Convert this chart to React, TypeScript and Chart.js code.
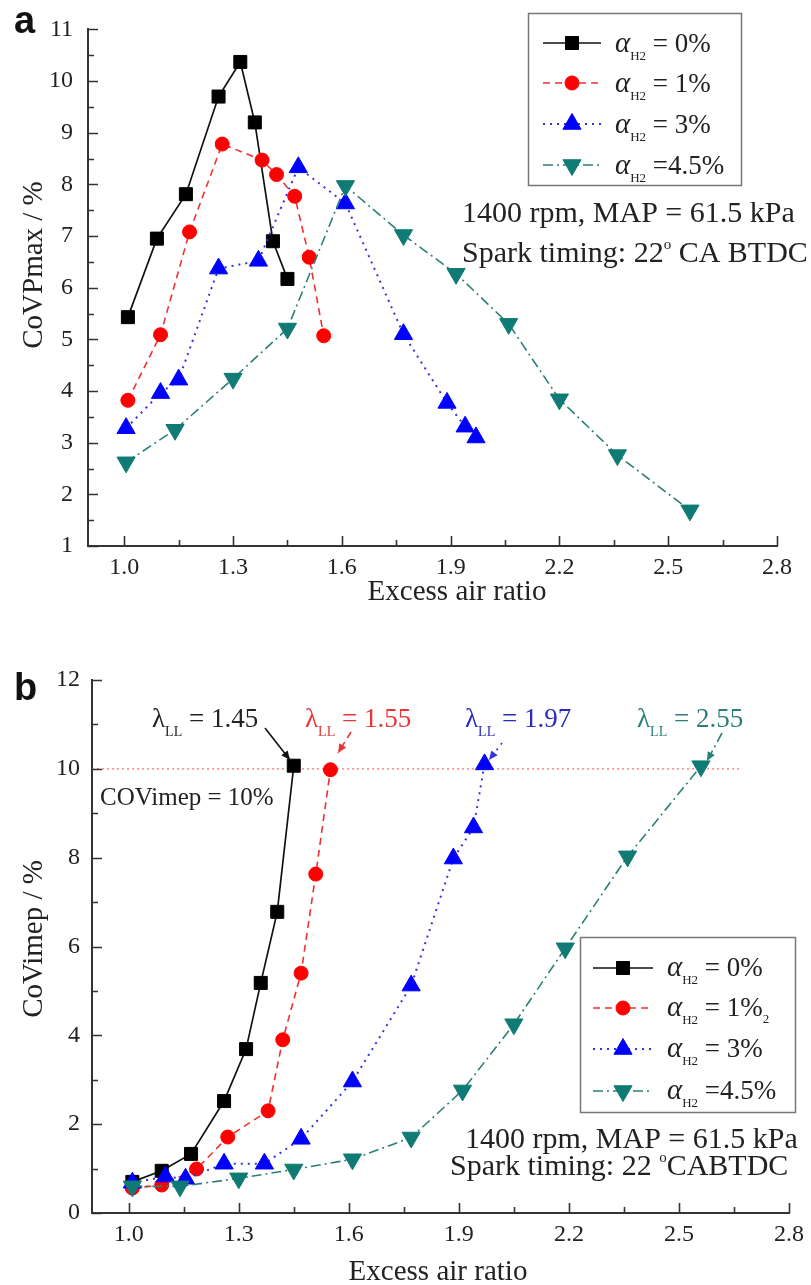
import React, { useEffect, useRef } from 'react';
import { Chart, registerables } from 'chart.js';

Chart.register(...registerables);

const SERIF = '"Liberation Serif", "Times New Roman", Times, serif';
const SANS = '"Liberation Sans", Arial, Helvetica, sans-serif';

// ---------------- Data ----------------
const seriesLabels = ['0%', '1%', '3%', '4.5%'];
const seriesLabelSubsB = ['', '2', '', ''];

const xTickValues = [1.0, 1.3, 1.6, 1.9, 2.2, 2.5, 2.8];
const xTickLabels = ['1.0', '1.3', '1.6', '1.9', '2.2', '2.5', '2.8'];
const yTickValuesA = [1, 2, 3, 4, 5, 6, 7, 8, 9, 10, 11];
const yTickLabelsA = ['1', '2', '3', '4', '5', '6', '7', '8', '9', '10', '11'];
const yTickValuesB = [0, 2, 4, 6, 8, 10, 12];
const yTickLabelsB = ['0', '2', '4', '6', '8', '10', '12'];

// Panel a: CoVPmax (%) vs excess air ratio
const covpX0 = [1.01, 1.09, 1.17, 1.26, 1.32, 1.36, 1.41, 1.45];
const covpY0 = [5.43, 6.95, 7.81, 9.7, 10.37, 9.2, 6.9, 6.17];
const covpX1 = [1.01, 1.1, 1.18, 1.27, 1.38, 1.42, 1.47, 1.51, 1.55];
const covpY1 = [3.82, 5.09, 7.08, 8.78, 8.47, 8.19, 7.77, 6.59, 5.07];
const covpX3 = [1.005, 1.1, 1.15, 1.26, 1.37, 1.48, 1.61, 1.77, 1.89, 1.94, 1.97];
const covpY3 = [3.28, 3.96, 4.22, 6.37, 6.52, 8.33, 7.63, 5.1, 3.77, 3.31, 3.1];
const covpX45 = [1.005, 1.14, 1.3, 1.45, 1.61, 1.77, 1.915, 2.06, 2.2, 2.36, 2.56];
const covpY45 = [2.62, 3.25, 4.24, 5.21, 7.97, 7.02, 6.27, 5.3, 3.84, 2.76, 1.69];

// Panel b: CoVimep (%) vs excess air ratio
const imepX0 = [1.01, 1.09, 1.17, 1.26, 1.32, 1.36, 1.405, 1.45];
const imepY0 = [0.7, 0.95, 1.33, 2.52, 3.69, 5.18, 6.78, 10.07];
const imepX1 = [1.01, 1.09, 1.185, 1.27, 1.38, 1.42, 1.47, 1.51, 1.55];
const imepY1 = [0.56, 0.63, 0.99, 1.71, 2.3, 3.9, 5.4, 7.63, 9.98];
const imepX3 = [1.01, 1.1, 1.155, 1.26, 1.37, 1.47, 1.61, 1.77, 1.885, 1.94, 1.97];
const imepY3 = [0.68, 0.82, 0.77, 1.11, 1.11, 1.67, 2.96, 5.12, 7.98, 8.68, 10.1];
const imepX45 = [1.01, 1.14, 1.3, 1.45, 1.61, 1.77, 1.91, 2.05, 2.19, 2.36, 2.56];
const imepY45 = [0.6, 0.6, 0.78, 0.98, 1.21, 1.7, 2.76, 4.25, 5.96, 8.03, 10.06];

const limitLineX = [0.9, 2.67];
const limitLineY = [10, 10];
const leanLimitLabels = ['1.45', '1.55', '1.97', '2.55'];

const xTitle = 'Excess air ratio';
const yTitleA = 'CoVPmax / %';
const yTitleB = 'CoVimep / %';
const conditionText = '1400 rpm, MAP = 61.5 kPa';
const limitText = 'COVimep = 10%';

// ---------------- Styles ----------------
const markerColors = ['#000000', '#ff0000', '#0000ff', '#0f7b74'];
const lineColors = ['#111111', '#f03030', '#3535e0', '#2a7f79'];
const textColors = ['#222222', '#e83535', '#2a2ac0', '#2a7f79'];
const lineDashes: number[][] = [[], [7, 5], [2, 5], [10, 4, 2, 4]];
const lineWidths = [1.7, 1.6, 2, 1.6];
const markerStyles = ['rect', 'circle', 'triangle', 'triangle'];
const markerRotations = [0, 0, 0, 180];
const markerRadii = [9.2, 7, 10.5, 10.5];

function buildDatasets(xs: number[][], ys: number[][]) {
  return xs.map((xv, i) => ({
    label: seriesLabels[i],
    data: xv.map((x, j) => ({ x, y: ys[i][j] })),
    borderColor: lineColors[i],
    borderWidth: lineWidths[i],
    borderDash: lineDashes[i],
    backgroundColor: markerColors[i],
    pointBackgroundColor: markerColors[i],
    pointBorderColor: markerColors[i],
    pointBorderWidth: 1,
    pointStyle: markerStyles[i],
    pointRotation: markerRotations[i],
    pointRadius: markerRadii[i],
    pointHoverRadius: markerRadii[i],
    tension: 0,
    fill: false,
    showLine: true,
    order: 3 - i,
  }));
}

function drawMarker(ctx: CanvasRenderingContext2D, i: number, x: number, y: number) {
  const r = markerRadii[i];
  ctx.save();
  ctx.setLineDash([]);
  ctx.fillStyle = markerColors[i];
  ctx.strokeStyle = markerColors[i];
  ctx.lineWidth = 1;
  ctx.beginPath();
  const st = markerStyles[i];
  if (st === 'rect') {
    const s = r * Math.SQRT1_2;
    ctx.rect(x - s, y - s, 2 * s, 2 * s);
  } else if (st === 'circle') {
    ctx.arc(x, y, r, 0, Math.PI * 2);
  } else {
    let a = (markerRotations[i] * Math.PI) / 180;
    for (let k = 0; k < 3; k++) {
      const px = x + Math.sin(a) * r;
      const py = y - Math.cos(a) * r;
      if (k === 0) ctx.moveTo(px, py);
      else ctx.lineTo(px, py);
      a += (2 * Math.PI) / 3;
    }
  }
  ctx.closePath();
  ctx.fill();
  ctx.stroke();
  ctx.restore();
}

type Part = { t: string; size: number; dy?: number; italic?: boolean };
function drawParts(ctx: CanvasRenderingContext2D, x: number, y: number, parts: Part[], color: string) {
  let cx = x;
  ctx.fillStyle = color;
  ctx.textBaseline = 'alphabetic';
  ctx.textAlign = 'left';
  for (const p of parts) {
    ctx.font = `${p.italic ? 'italic ' : ''}${p.size}px ${SERIF}`;
    ctx.fillText(p.t, cx, y + (p.dy || 0));
    cx += ctx.measureText(p.t).width;
  }
  return cx - x;
}

function drawArrow(ctx: CanvasRenderingContext2D, x1: number, y1: number, x2: number, y2: number, color: string, dash: number[]) {
  ctx.save();
  ctx.strokeStyle = color;
  ctx.fillStyle = color;
  ctx.lineWidth = 1.6;
  ctx.setLineDash(dash);
  ctx.beginPath();
  ctx.moveTo(x1, y1);
  ctx.lineTo(x2, y2);
  ctx.stroke();
  ctx.setLineDash([]);
  const ang = Math.atan2(y2 - y1, x2 - x1);
  const L = 9;
  const W = 4;
  ctx.beginPath();
  ctx.moveTo(x2, y2);
  ctx.lineTo(x2 - L * Math.cos(ang) + W * Math.sin(ang), y2 - L * Math.sin(ang) - W * Math.cos(ang));
  ctx.lineTo(x2 - L * Math.cos(ang) - W * Math.sin(ang), y2 - L * Math.sin(ang) + W * Math.cos(ang));
  ctx.closePath();
  ctx.fill();
  ctx.restore();
}

const layouts: any = {
  a: {
    legendBox: [528, 13, 741, 185],
    rows: [43, 83, 124, 165],
    sample: [543, 601],
    marker: 572,
    text: 615,
    textDy: 9,
    cond: [462, 222, 462, 262, 30],
    xTitle: [457, 600],
    yTitle: [42, 265],
    tag: ['a', 14, 33],
  },
  b: {
    legendBox: [580, 317, 795, 492],
    rows: [348, 388, 429, 471],
    sample: [593, 653],
    marker: 623,
    text: 667,
    textDy: 8,
    cond: [465, 528, 450, 555, 30],
    xTitle: [438, 660],
    yTitle: [42, 319],
    tag: ['b', 14, 80],
  },
};

function decorPlugin(panel: 'a' | 'b') {
  const L = layouts[panel];
  return {
    id: 'decor_' + panel,
    afterDatasetsDraw(chart: any) {
      const ctx: CanvasRenderingContext2D = chart.ctx;
      const xs = chart.scales.x;
      const ys = chart.scales.y;
      const area = chart.chartArea;
      ctx.save();

      // inward tick marks
      ctx.strokeStyle = '#333';
      ctx.lineWidth = 1.6;
      ctx.setLineDash([]);
      const xMinor = xTickValues.slice(0, -1).map((v, i) => (v + xTickValues[i + 1]) / 2);
      ctx.beginPath();
      xTickValues.forEach((v) => {
        const px = Math.round(xs.getPixelForValue(v)) + 0.5;
        ctx.moveTo(px, area.bottom);
        ctx.lineTo(px, area.bottom - 10);
      });
      xMinor.forEach((v) => {
        const px = Math.round(xs.getPixelForValue(v)) + 0.5;
        ctx.moveTo(px, area.bottom);
        ctx.lineTo(px, area.bottom - 6);
      });
      const yVals = panel === 'a' ? yTickValuesA : yTickValuesB;
      yVals.forEach((v) => {
        const py = Math.round(ys.getPixelForValue(v)) + 0.5;
        ctx.moveTo(area.left, py);
        ctx.lineTo(area.left + 10, py);
      });
      yVals.slice(0, -1).forEach((v, i) => {
        const py = Math.round(ys.getPixelForValue((v + yVals[i + 1]) / 2)) + 0.5;
        ctx.moveTo(area.left, py);
        ctx.lineTo(area.left + 6, py);
      });
      ctx.stroke();

      // axis titles
      ctx.fillStyle = '#222';
      ctx.font = `29px ${SERIF}`;
      ctx.textAlign = 'center';
      ctx.textBaseline = 'alphabetic';
      ctx.fillText(xTitle, L.xTitle[0], L.xTitle[1]);
      ctx.save();
      ctx.translate(L.yTitle[0], L.yTitle[1]);
      ctx.rotate(-Math.PI / 2);
      ctx.fillText(panel === 'a' ? yTitleA : yTitleB, 0, 0);
      ctx.restore();

      // panel tag
      ctx.font = `bold 38px ${SANS}`;
      ctx.textAlign = 'left';
      ctx.fillStyle = '#111';
      ctx.fillText(L.tag[0], L.tag[1], L.tag[2]);

      // legend
      const [bx0, by0, bx1, by1] = L.legendBox;
      ctx.fillStyle = '#fff';
      ctx.fillRect(bx0, by0, bx1 - bx0, by1 - by0);
      ctx.strokeStyle = '#777';
      ctx.lineWidth = 1.5;
      ctx.strokeRect(bx0 + 0.5, by0 + 0.5, bx1 - bx0, by1 - by0);
      for (let i = 0; i < 4; i++) {
        const ry = L.rows[i];
        ctx.save();
        ctx.strokeStyle = lineColors[i];
        ctx.lineWidth = lineWidths[i];
        ctx.setLineDash(lineDashes[i]);
        ctx.beginPath();
        ctx.moveTo(L.sample[0], ry);
        ctx.lineTo(L.sample[1], ry);
        ctx.stroke();
        ctx.restore();
        drawMarker(ctx, i, L.marker, ry);
        const parts: Part[] = [
          { t: 'α', size: 29, italic: true },
          { t: 'H2', size: 13, dy: 8 },
          { t: seriesLabels[i] === '4.5%' ? ' =' : ' = ', size: 27 },
          { t: seriesLabels[i], size: 27 },
        ];
        if (panel === 'b' && seriesLabelSubsB[i]) parts.push({ t: seriesLabelSubsB[i], size: 13, dy: 7 });
        drawParts(ctx, L.text, ry + L.textDy, parts, '#222');
      }

      // operating conditions
      const [c1x, c1y, c2x, c2y, cs] = L.cond;
      drawParts(ctx, c1x, c1y, [{ t: conditionText, size: cs }], '#222');
      if (panel === 'a') {
        drawParts(ctx, c2x, c2y, [
          { t: 'Spark timing: 22', size: cs },
          { t: 'o', size: 15, dy: -13 },
          { t: ' CA BTDC', size: cs },
        ], '#222');
      } else {
        drawParts(ctx, c2x, c2y, [
          { t: 'Spark timing: 22 ', size: cs },
          { t: 'o', size: 15, dy: -13 },
          { t: 'CABTDC', size: cs },
        ], '#222');
      }

      if (panel === 'b') {
        // COVimep limit label
        drawParts(ctx, 100, 185, [{ t: limitText, size: 25 }], '#222');
        // lean limit labels
        const lx = [152, 305, 465, 637];
        const arrows = [
          [265, 108, 290, 140],
          [351, 112, 338, 133],
          [502, 123, 489, 140],
          [722, 113, 707, 141],
        ];
        for (let i = 0; i < 4; i++) {
          drawParts(ctx, lx[i], 107, [
            { t: 'λ', size: 27 },
            { t: 'LL', size: 14, dy: 9 },
            { t: ' = ' + leanLimitLabels[i], size: 27 },
          ], textColors[i]);
          const a = arrows[i];
          drawArrow(ctx, a[0], a[1], a[2], a[3], lineColors[i], lineDashes[i]);
        }
      }
      ctx.restore();
    },
  };
}

function makeConfig(panel: 'a' | 'b'): any {
  const isA = panel === 'a';
  const datasets: any[] = isA
    ? buildDatasets([covpX0, covpX1, covpX3, covpX45], [covpY0, covpY1, covpY3, covpY45])
    : buildDatasets([imepX0, imepX1, imepX3, imepX45], [imepY0, imepY1, imepY3, imepY45]);
  if (!isA) {
    datasets.push({
      label: limitText,
      data: limitLineX.map((x, j) => ({ x, y: limitLineY[j] })),
      borderColor: '#ff7070',
      borderWidth: 1.3,
      borderDash: [2, 3],
      pointRadius: 0,
      showLine: true,
      fill: false,
      order: 10,
    });
  }
  const yVals = isA ? yTickValuesA : yTickValuesB;
  const yLabels = isA ? yTickLabelsA : yTickLabelsB;
  return {
    type: 'line',
    data: { datasets },
    options: {
      responsive: false,
      animation: false,
      events: [],
      layout: {
        padding: isA ? { top: 20, right: 34, left: 0, bottom: 0 } : { top: 60, right: 19, left: 0, bottom: 0 },
      },
      plugins: { legend: { display: false }, tooltip: { enabled: false }, title: { display: false } },
      scales: {
        x: {
          type: 'linear',
          min: 0.9,
          max: 2.8,
          afterBuildTicks: (s: any) => {
            s.ticks = xTickValues.map((v) => ({ value: v }));
          },
          afterFit: (s: any) => {
            s.height = isA ? 74 : 72;
          },
          ticks: {
            autoSkip: false,
            maxRotation: 0,
            minRotation: 0,
            padding: 7,
            color: '#222',
            font: { family: SERIF, size: 24 },
            callback: (_v: any, i: number) => xTickLabels[i],
          },
          grid: { display: false, drawTicks: false },
          border: { display: true, color: '#333', width: 2 },
        },
        y: {
          type: 'linear',
          min: yVals[0],
          max: yVals[yVals.length - 1],
          afterBuildTicks: (s: any) => {
            s.ticks = yVals.map((v) => ({ value: v }));
          },
          afterFit: (s: any) => {
            s.width = isA ? 88 : 92;
          },
          ticks: {
            autoSkip: false,
            padding: isA ? 15 : 12,
            color: '#222',
            font: { family: SERIF, size: 24 },
            callback: (_v: any, i: number) => yLabels[i],
          },
          grid: { display: false, drawTicks: false },
          border: { display: true, color: '#333', width: 2 },
        },
      },
    },
    plugins: [decorPlugin(panel)],
  };
}

export default function App() {
  const refA = useRef<HTMLCanvasElement | null>(null);
  const refB = useRef<HTMLCanvasElement | null>(null);
  useEffect(() => {
    const charts: Chart[] = [];
    if (refA.current) charts.push(new Chart(refA.current, makeConfig('a')));
    if (refB.current) charts.push(new Chart(refB.current, makeConfig('b')));
    return () => charts.forEach((c) => c.destroy());
  }, []);
  return (
    <div style={{ position: 'absolute', left: 0, top: 0, width: 811, height: 1285, background: '#fff', overflow: 'hidden' }}>
      <canvas ref={refA} width={811} height={620} style={{ position: 'absolute', left: 0, top: 0, width: 811, height: 620 }} />
      <canvas ref={refB} width={811} height={665} style={{ position: 'absolute', left: 0, top: 620, width: 811, height: 665 }} />
    </div>
  );
}
